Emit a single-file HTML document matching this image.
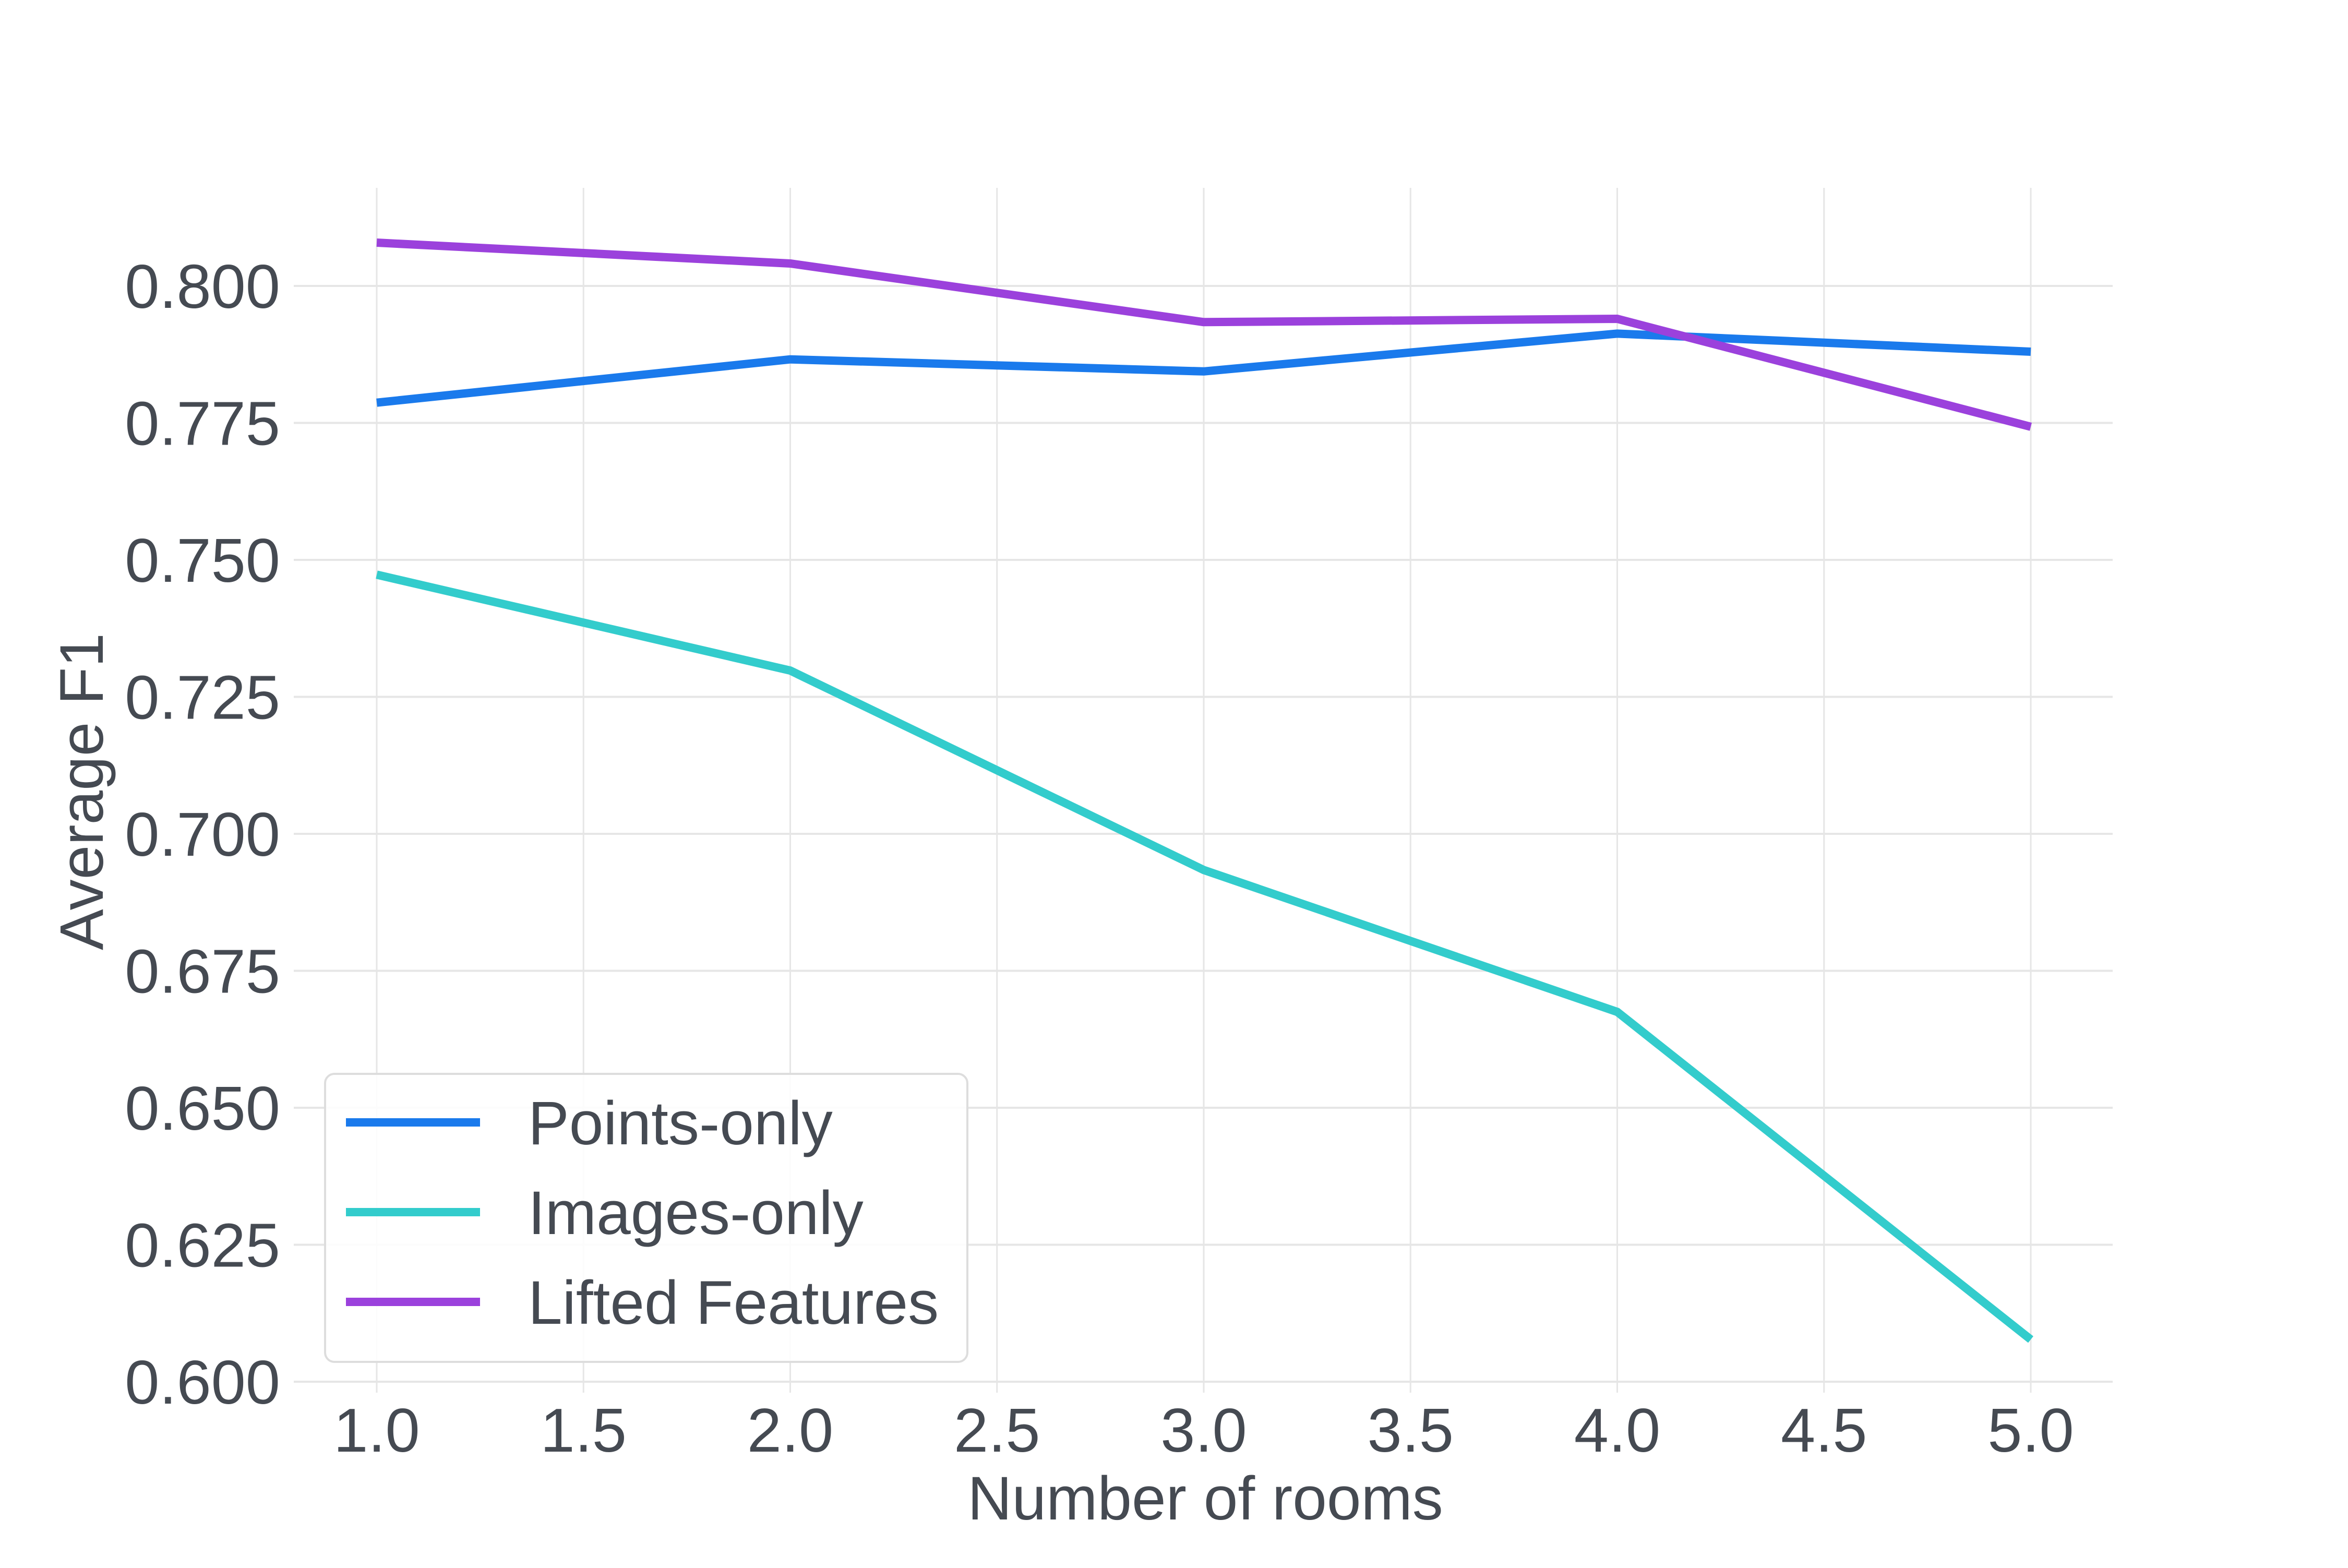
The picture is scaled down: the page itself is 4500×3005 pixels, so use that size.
<!DOCTYPE html>
<html><head><meta charset="utf-8"><style>
html,body{margin:0;padding:0;background:#fff;}
svg text{font-family:"Liberation Sans",sans-serif;fill:#454a52;}
</style></head><body>
<svg id="chart" width="4500" height="3000" viewBox="0 0 4500 3000" xmlns="http://www.w3.org/2000/svg">
<g id="grid"></g>
<g id="series"></g>
<g id="xticks"></g>
<g id="yticks"></g>
<text x="2310" y="2912" font-size="118" text-anchor="middle">Number of rooms</text>
<text transform="translate(197,1517) rotate(-90)" font-size="118" text-anchor="middle">Average F1</text>
<g id="legend">
<rect x="623" y="2058" width="1231" height="552" rx="18" fill="rgba(255,255,255,0.85)" stroke="#dddddd" stroke-width="4"/>
</g>
</svg>
<script>
const xValues = [1, 2, 3, 4, 5];
const pointsOnly = [0.7787, 0.7866, 0.7844, 0.7913, 0.7880];
const imagesOnly = [0.7473, 0.7298, 0.6934, 0.6675, 0.6077];
const liftedFeatures = [0.8079, 0.8041, 0.7934, 0.7940, 0.7743];
const xTicks = [1.0, 1.5, 2.0, 2.5, 3.0, 3.5, 4.0, 4.5, 5.0];
const yTicks = [0.600, 0.625, 0.650, 0.675, 0.700, 0.725, 0.750, 0.775, 0.800];
const seriesNames = ["Points-only", "Images-only", "Lifted Features"];
const seriesColors = ["#1a7aec", "#33cccc", "#9b41dc"];

const NS = "http://www.w3.org/2000/svg";
function sx(v){ return 722 + (v - 1) * (3892 - 722) / 4; }
function sy(v){ return 2648 - (v - 0.6) * (2648 - 548) / 0.2; }
function mk(tag, attrs, parent){ const e = document.createElementNS(NS, tag); for (const k in attrs) e.setAttribute(k, attrs[k]); parent.appendChild(e); return e; }

const grid = document.getElementById('grid');
xTicks.forEach(t => {
  const l = mk('line', {x1: sx(t), x2: sx(t), y1: 360, y2: 2669, stroke: '#e6e6e6', 'stroke-width': 3}, grid);
  
  
  const tx = mk('text', {x: sx(t), y: 2782, 'font-size': 119, 'text-anchor': 'middle'}, document.getElementById('xticks'));
  tx.textContent = t.toFixed(1);
  
  
});
yTicks.forEach(t => {
  const l = mk('line', {x1: 563, x2: 4049, y1: sy(t), y2: sy(t), stroke: '#e6e6e6', 'stroke-width': 4}, grid);
  
  
  const tx = mk('text', {x: 537, y: sy(t) + 42, 'font-size': 119, 'text-anchor': 'end'}, document.getElementById('yticks'));
  tx.textContent = t.toFixed(3);
  
  
});

const allSeries = [pointsOnly, imagesOnly, liftedFeatures];
const sg = document.getElementById('series');
allSeries.forEach((vals, i) => {
  const pts = vals.map((v, j) => sx(xValues[j]) + ',' + sy(v)).join(' ');
  const p = mk('polyline', {points: pts, fill: 'none', stroke: seriesColors[i], 'stroke-width': 16, 'stroke-linejoin': 'round'}, sg);
  
  
});

const lg = document.getElementById('legend');
seriesNames.forEach((n, i) => {
  const y = 2151 + i * 172;
  const l = mk('line', {x1: 663, x2: 920, y1: y, y2: y, stroke: seriesColors[i], 'stroke-width': 16}, lg);
  
  
  const t = mk('text', {x: 1012, y: y + 42, 'font-size': 118}, lg);
  t.textContent = n;
  
  
});
</script>
</body></html>
